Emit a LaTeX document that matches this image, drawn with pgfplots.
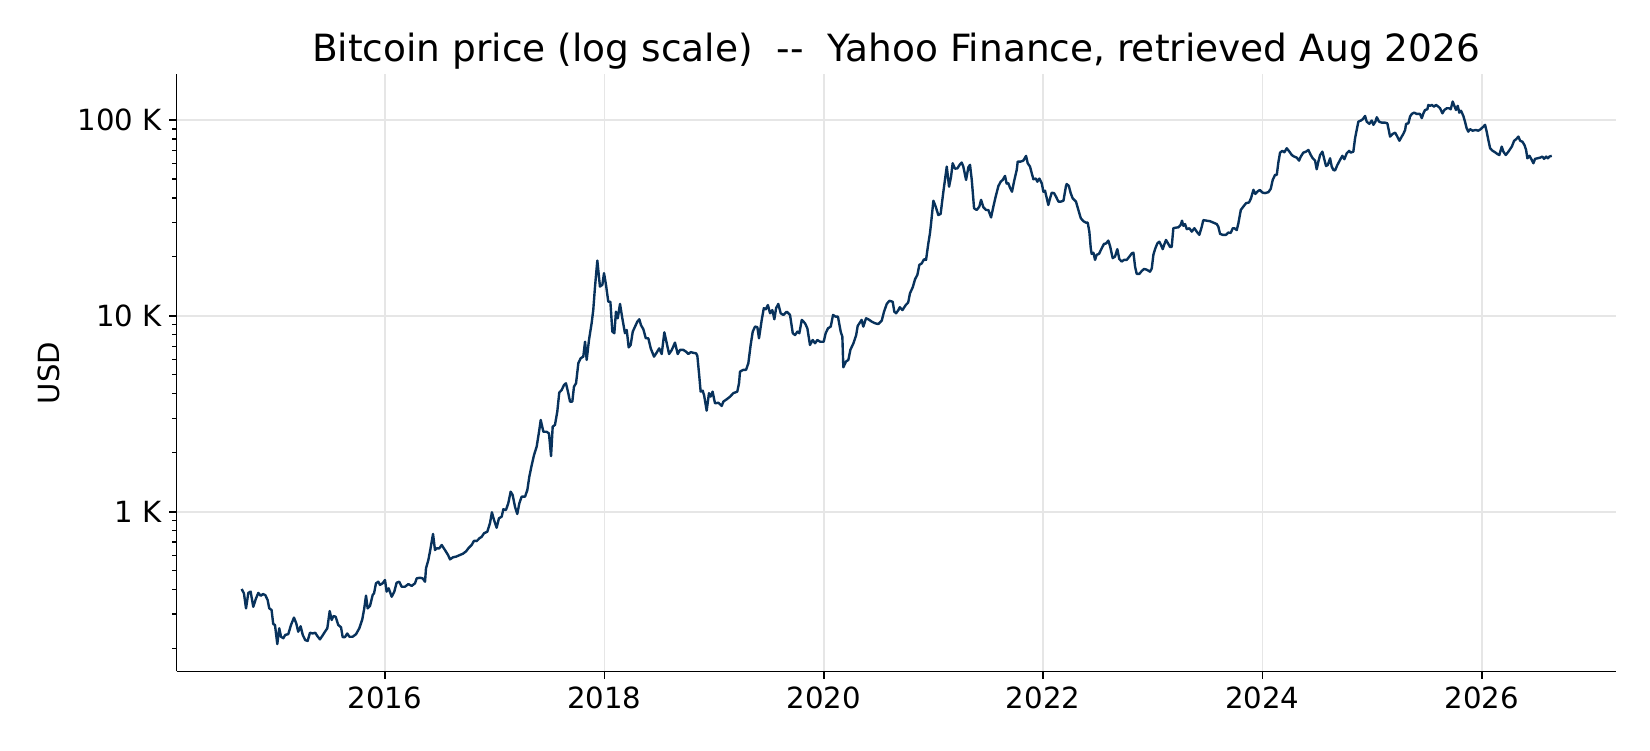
\documentclass[border=0pt]{standalone}
\usepackage{fontspec}
\setmainfont{DejaVu Sans}
\usepackage{pgfplots}
\pgfplotsset{compat=1.18}
\definecolor{btc}{RGB}{8,50,92}
\definecolor{gridc}{RGB}{230,230,230}
\begin{document}
\begin{tikzpicture}
\useasboundingbox (0,0) rectangle (792pt,360pt);
\begin{axis}[
  at={(84.77pt,37.73pt)}, anchor=south west,
  scale only axis, width=690.7pt, height=286.6pt,
  ymode=log,
  xmin=2014.1, xmax=2027.22,
  ymin=153, ymax=171000,
  axis lines=left,
  axis line style={-, line width=0.8pt, black},
  tick align=outside,
  major tick length=3.5pt, minor tick length=2pt,
  every major tick/.style={line width=0.8pt, black},
  every minor tick/.style={line width=0.6pt, black},
  xtick={2016,2018,2020,2022,2024,2026},
  xticklabels={2016,2018,2020,2022,2024,2026},
  ytick={1000,10000,100000},
  yticklabels={1 K,10 K,100 K},
  minor ytick={200,300,400,500,600,700,800,900,2000,3000,4000,5000,6000,7000,8000,9000,20000,30000,40000,50000,60000,70000,80000,90000},
  /pgf/number format/assume math mode=true,
  tick label style={font=\fontsize{14}{16.8}\selectfont, inner sep=0pt},
  xticklabel style={yshift=-3.5pt},
  yticklabel style={xshift=-3.5pt},
  xmajorgrids, ymajorgrids,
  major grid style={line width=0.8pt, gridc},
  title={Bitcoin price (log scale)\ \ -{}-\ \ Yahoo Finance, retrieved Aug 2026},
  title style={at={(axis description cs:0.5,1)}, anchor=base, yshift=0pt, inner sep=0pt, font=\fontsize{18}{21.6}\selectfont},
  ylabel={USD},
  ylabel style={at={(axis description cs:-0.0887,0.5)}, anchor=center, inner sep=0pt, font=\fontsize{14}{16.8}\selectfont},
]
\addplot[btc, line width=1.15pt, line join=round] coordinates {
(2014.693,403)(2014.714,383)(2014.733,321)(2014.754,385)(2014.775,391)(2014.799,327)(2014.824,361)(2014.845,385)(2014.867,372)(2014.888,380)
(2014.909,375)(2014.930,354)(2014.945,321)(2014.966,315)(2014.981,267)(2014.997,264)(2015.018,211)(2015.036,254)(2015.052,230)(2015.073,226)
(2015.091,235)(2015.118,237)(2015.143,264)(2015.170,288)(2015.191,269)(2015.209,244)(2015.231,260)(2015.250,235)(2015.273,221)(2015.295,219)
(2015.316,241)(2015.341,239)(2015.364,241)(2015.383,232)(2015.407,223)(2015.428,232)(2015.453,244)(2015.474,254)(2015.496,311)(2015.514,280)
(2015.529,293)(2015.550,291)(2015.574,264)(2015.599,257)(2015.614,229)(2015.635,229)(2015.656,239)(2015.675,230)(2015.705,230)(2015.736,237)
(2015.766,254)(2015.793,282)(2015.811,321)(2015.827,373)(2015.842,321)(2015.863,330)(2015.888,376)(2015.900,383)(2015.918,431)(2015.939,439)
(2015.954,423)(2015.979,431)(2016.000,448)(2016.015,391)(2016.034,406)(2016.061,368)(2016.085,391)(2016.106,434)(2016.130,439)(2016.152,414)
(2016.182,414)(2016.213,427)(2016.243,418)(2016.274,431)(2016.289,457)(2016.319,460)(2016.343,457)(2016.365,439)(2016.374,514)(2016.395,566)
(2016.410,625)(2016.438,770)(2016.456,637)(2016.471,650)(2016.495,650)(2016.517,676)(2016.547,637)(2016.575,601)(2016.593,571)(2016.620,585)
(2016.650,590)(2016.680,600)(2016.710,610)(2016.740,628)(2016.760,650)(2016.790,676)(2016.812,711)(2016.836,708)(2016.860,731)(2016.882,745)
(2016.903,776)(2016.933,791)(2016.957,873)(2016.975,993)(2016.994,907)(2017.018,828)(2017.039,925)(2017.064,943)(2017.079,1029)(2017.103,1020)
(2017.124,1104)(2017.146,1265)(2017.164,1217)(2017.185,1061)(2017.206,973)(2017.225,1104)(2017.246,1193)(2017.277,1193)(2017.298,1291)(2017.316,1510)
(2017.338,1732)(2017.359,1948)(2017.383,2149)(2017.407,2613)(2017.420,2940)(2017.444,2558)(2017.474,2558)(2017.495,2510)(2017.514,1923)(2017.529,2718)
(2017.550,2775)(2017.571,3245)(2017.589,4056)(2017.611,4182)(2017.632,4433)(2017.650,4525)(2017.668,4104)(2017.687,3648)(2017.708,3648)(2017.723,4348)
(2017.742,4525)(2017.763,5730)(2017.784,6073)(2017.808,6187)(2017.824,7376)(2017.839,5955)(2017.860,7532)(2017.884,9160)(2017.899,10720)(2017.915,14100)
(2017.936,19140)(2017.960,14100)(2017.982,14400)(2017.997,16500)(2018.015,14400)(2018.036,11800)(2018.055,11800)(2018.073,8300)(2018.091,8150)(2018.106,10500)
(2018.122,9710)(2018.143,11500)(2018.164,9710)(2018.188,8150)(2018.204,8470)(2018.222,6900)(2018.240,7100)(2018.259,8300)(2018.280,8810)(2018.301,9340)
(2018.319,9600)(2018.334,8970)(2018.356,8530)(2018.378,7680)(2018.401,7680)(2018.423,6820)(2018.453,6187)(2018.477,6490)(2018.500,6820)(2018.523,6380)
(2018.547,8240)(2018.569,7240)(2018.590,6380)(2018.615,6700)(2018.644,7300)(2018.669,6380)(2018.690,6700)(2018.720,6700)(2018.745,6560)(2018.766,6380)
(2018.788,6530)(2018.812,6470)(2018.836,6440)(2018.848,6250)(2018.866,4890)(2018.878,4100)(2018.896,4150)(2018.909,3945)(2018.933,3280)(2018.954,4030)
(2018.969,3870)(2018.987,4100)(2019.009,3575)(2019.040,3600)(2019.070,3465)(2019.085,3648)(2019.116,3750)(2019.146,3865)(2019.176,4030)(2019.212,4100)
(2019.228,4530)(2019.237,5190)(2019.267,5300)(2019.292,5300)(2019.313,5730)(2019.334,7100)(2019.353,8300)(2019.374,8810)(2019.395,8750)(2019.410,7680)
(2019.435,9530)(2019.454,10940)(2019.472,10800)(2019.491,11350)(2019.511,10300)(2019.532,10700)(2019.550,9600)(2019.566,10940)(2019.586,11500)(2019.608,10300)
(2019.632,10100)(2019.663,10500)(2019.693,10100)(2019.718,8150)(2019.739,7980)(2019.760,8300)(2019.778,8150)(2019.800,9530)(2019.830,9160)(2019.851,8630)
(2019.875,7100)(2019.900,7530)(2019.921,7240)(2019.942,7530)(2019.967,7376)(2020.000,7376)(2020.018,8150)(2020.039,8630)(2020.064,8810)(2020.085,10100)
(2020.109,9900)(2020.130,9900)(2020.155,8300)(2020.170,7830)(2020.179,5460)(2020.203,5840)(2020.225,5955)(2020.243,6700)(2020.271,7240)(2020.296,7980)
(2020.310,8880)(2020.346,9530)(2020.361,8810)(2020.386,9710)(2020.407,9600)(2020.438,9340)(2020.468,9160)(2020.498,9080)(2020.529,9440)(2020.550,10500)
(2020.575,11500)(2020.599,11930)(2020.629,11800)(2020.644,10500)(2020.660,10300)(2020.681,10700)(2020.694,11060)(2020.718,10700)(2020.748,11350)(2020.770,11680)
(2020.787,13040)(2020.812,13990)(2020.833,15380)(2020.854,16180)(2020.872,18200)(2020.893,18500)(2020.915,19450)(2020.933,19300)(2020.954,23430)(2020.969,26400)
(2020.979,29660)(2021.000,38700)(2021.021,36100)(2021.045,32700)(2021.066,33100)(2021.091,43000)(2021.122,57800)(2021.143,45600)(2021.161,51300)(2021.176,60100)
(2021.197,56400)(2021.219,56600)(2021.243,59400)(2021.258,60600)(2021.273,57800)(2021.298,49400)(2021.319,57300)(2021.334,59000)(2021.350,49400)(2021.371,35400)
(2021.395,34700)(2021.419,36100)(2021.435,39100)(2021.456,35800)(2021.480,34700)(2021.501,34700)(2021.526,31800)(2021.547,36100)(2021.568,40600)(2021.593,46000)
(2021.614,48400)(2021.632,49400)(2021.653,51800)(2021.668,47300)(2021.683,47600)(2021.699,45000)(2021.717,43000)(2021.735,48400)(2021.760,55600)(2021.769,61300)
(2021.797,61300)(2021.820,62000)(2021.845,65500)(2021.860,60100)(2021.881,57800)(2021.897,53400)(2021.912,49800)(2021.934,50200)(2021.948,48400)(2021.967,50200)
(2021.989,47300)(2022.003,43000)(2022.018,43500)(2022.034,39800)(2022.048,36800)(2022.064,39800)(2022.079,42500)(2022.100,42300)(2022.118,40600)(2022.140,38300)
(2022.164,38300)(2022.186,38700)(2022.209,46000)(2022.216,47100)(2022.235,46000)(2022.252,42300)(2022.270,39800)(2022.300,38300)(2022.322,34700)(2022.344,31500)
(2022.368,30400)(2022.392,29900)(2022.407,29900)(2022.422,26900)(2022.435,22130)(2022.443,20700)(2022.459,21000)(2022.474,19300)(2022.489,20500)(2022.510,20700)
(2022.535,22130)(2022.556,23300)(2022.574,23400)(2022.595,24200)(2022.611,22700)(2022.635,19700)(2022.656,20050)(2022.677,21890)(2022.695,19500)(2022.717,18920)
(2022.738,19300)(2022.763,19300)(2022.787,20050)(2022.809,20840)(2022.824,21000)(2022.839,17820)(2022.854,16370)(2022.878,16370)(2022.900,16950)(2022.921,17350)
(2022.945,17200)(2022.975,16800)(2022.991,17430)(2023.006,20500)(2023.021,21890)(2023.042,23430)(2023.060,23900)(2023.076,22950)(2023.091,21890)(2023.103,22950)
(2023.121,24400)(2023.142,23300)(2023.158,22450)(2023.173,22450)(2023.188,28000)(2023.213,28200)(2023.234,28300)(2023.255,29100)(2023.267,30600)(2023.279,28800)
(2023.295,29400)(2023.310,27700)(2023.334,28000)(2023.356,26900)(2023.380,28000)(2023.401,26900)(2023.425,25900)(2023.447,28500)(2023.461,30800)(2023.492,30600)
(2023.523,30400)(2023.553,29900)(2023.584,29400)(2023.598,28500)(2023.614,26200)(2023.638,25900)(2023.668,25900)(2023.689,26600)(2023.711,26500)(2023.730,28000)
(2023.744,28000)(2023.766,27400)(2023.781,29700)(2023.803,34700)(2023.826,36100)(2023.851,37600)(2023.878,37900)(2023.896,39800)(2023.918,44000)(2023.936,41900)
(2023.955,43100)(2023.976,43900)(2024.000,42600)(2024.024,42300)(2024.055,42800)(2024.076,44500)(2024.094,49400)(2024.115,52400)(2024.131,52400)(2024.145,60500)
(2024.161,68100)(2024.182,69500)(2024.200,68400)(2024.222,71700)(2024.246,68900)(2024.268,66200)(2024.289,65000)(2024.313,64200)(2024.334,62000)(2024.350,65000)
(2024.373,68100)(2024.398,68900)(2024.419,70300)(2024.441,66200)(2024.459,63700)(2024.480,62000)(2024.495,56000)(2024.510,61200)(2024.526,66200)(2024.547,68900)
(2024.562,63700)(2024.580,58200)(2024.596,58800)(2024.617,63700)(2024.632,57800)(2024.647,55600)(2024.662,55200)(2024.683,58800)(2024.708,62500)(2024.729,65600)
(2024.747,63000)(2024.769,67600)(2024.790,69500)(2024.805,68100)(2024.829,68900)(2024.845,80700)(2024.861,89700)(2024.875,98000)(2024.897,99300)(2024.916,100900)
(2024.936,104800)(2024.951,98000)(2024.975,95500)(2024.997,99300)(2025.012,94400)(2025.030,98000)(2025.043,103200)(2025.063,98000)(2025.088,96900)(2025.118,96900)
(2025.139,96100)(2025.155,87100)(2025.164,82200)(2025.189,84900)(2025.210,86100)(2025.230,82200)(2025.249,78300)(2025.270,82200)(2025.285,84900)(2025.301,88900)
(2025.310,95500)(2025.331,96100)(2025.346,104000)(2025.362,107300)(2025.383,109000)(2025.407,107300)(2025.437,107300)(2025.453,102100)(2025.468,108100)(2025.483,112400)
(2025.504,113400)(2025.513,119300)(2025.529,118000)(2025.544,119300)(2025.565,116900)(2025.583,119300)(2025.604,116900)(2025.620,114700)(2025.641,108100)(2025.659,112400)
(2025.681,114700)(2025.702,114700)(2025.717,113400)(2025.735,124200)(2025.750,118000)(2025.765,112400)(2025.781,118000)(2025.795,109000)(2025.811,111400)(2025.832,104800)
(2025.847,98000)(2025.862,90800)(2025.877,87100)(2025.893,89700)(2025.917,88100)(2025.944,88900)(2025.968,88100)(2025.990,89700)(2026.015,92500)(2026.030,94400)
(2026.045,87100)(2026.060,79000)(2026.076,71700)(2026.097,69700)(2026.121,68400)(2026.142,67000)(2026.160,66200)(2026.182,73100)(2026.197,68900)(2026.219,66200)
(2026.243,68900)(2026.274,73100)(2026.295,78300)(2026.313,79700)(2026.334,82200)(2026.350,78300)(2026.371,77400)(2026.389,74500)(2026.404,70300)(2026.416,63700)
(2026.435,65600)(2026.456,62500)(2026.471,60100)(2026.486,63300)(2026.507,63700)(2026.532,64200)(2026.553,65000)(2026.568,63300)(2026.587,65000)(2026.602,63700)
(2026.617,65000)(2026.638,65600)
};
\end{axis}
\end{tikzpicture}
\end{document}
